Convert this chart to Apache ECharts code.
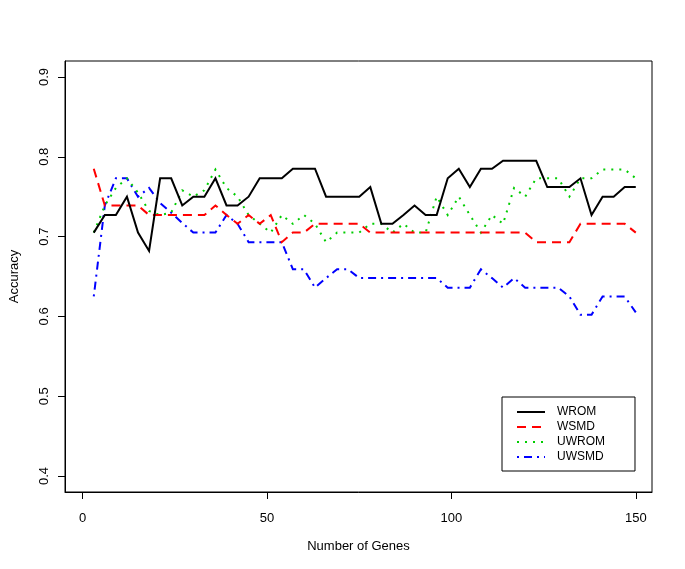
<!DOCTYPE html>
<html>
<head>
<meta charset="utf-8">
<script src="https://cdn.jsdelivr.net/npm/echarts@6/dist/echarts.min.js"></script>
<style>
html,body{margin:0;padding:0;background:#fff;}
#chart{width:685px;height:569px;}
</style>
</head>
<body>
<div id="chart"></div>
<script>
// Number of genes (x values)
var genes = [3,6,9,12,15,18,21,24,27,30,33,36,39,42,45,48,51,54,57,60,
             63,66,69,72,75,78,81,84,87,90,93,96,99,102,105,108,111,114,117,120,
             123,126,129,132,135,138,141,144,147,150];

var WROM = [0.705,0.727,0.727,0.750,0.705,0.682,0.773,0.773,0.739,0.750,
            0.750,0.773,0.739,0.739,0.750,0.773,0.773,0.773,0.785,0.785,
            0.785,0.750,0.750,0.750,0.750,0.762,0.716,0.716,0.727,0.739,
            0.727,0.727,0.773,0.785,0.762,0.785,0.785,0.795,0.795,0.795,
            0.795,0.762,0.762,0.762,0.773,0.727,0.750,0.750,0.762,0.762];

var WSMD = [0.785,0.739,0.739,0.739,0.739,0.727,0.727,0.727,0.727,0.727,
            0.727,0.739,0.727,0.716,0.727,0.716,0.727,0.693,0.705,0.705,
            0.716,0.716,0.716,0.716,0.716,0.705,0.705,0.705,0.705,0.705,
            0.705,0.705,0.705,0.705,0.705,0.705,0.705,0.705,0.705,0.705,
            0.693,0.693,0.693,0.693,0.716,0.716,0.716,0.716,0.716,0.705];

var UWROM = [0.705,0.739,0.761,0.773,0.755,0.732,0.727,0.730,0.758,0.750,
             0.758,0.784,0.761,0.750,0.727,0.716,0.705,0.727,0.716,0.727,
             0.716,0.693,0.705,0.705,0.705,0.716,0.716,0.705,0.716,0.705,
             0.705,0.750,0.727,0.750,0.727,0.705,0.727,0.716,0.761,0.750,
             0.773,0.773,0.773,0.750,0.773,0.773,0.784,0.784,0.784,0.773];

var UWSMD = [0.625,0.739,0.773,0.773,0.750,0.761,0.742,0.730,0.717,0.705,
             0.705,0.705,0.727,0.716,0.693,0.693,0.693,0.693,0.659,0.659,
             0.636,0.648,0.659,0.659,0.648,0.648,0.648,0.648,0.648,0.648,
             0.648,0.648,0.636,0.636,0.636,0.659,0.648,0.636,0.648,0.636,
             0.636,0.636,0.636,0.625,0.602,0.602,0.625,0.625,0.625,0.605];

var xTicks = [0, 50, 100, 150];
var yTicks = [0.4, 0.5, 0.6, 0.7, 0.8, 0.9];

var seriesNames = ['WROM', 'WSMD', 'UWROM', 'UWSMD'];
var seriesValues = [WROM, WSMD, UWROM, UWSMD];
var seriesColors = ['#000000', '#FF0000', '#00CD00', '#0000FF'];
var seriesDash = ['solid', [9, 6], [2, 6], [2, 5, 8, 5]];

var FONT = "'Liberation Sans', Arial, Helvetica, sans-serif";

function pairs(vals) {
  return genes.map(function (g, i) { return [g, vals[i]]; });
}

var series = seriesNames.map(function (name, k) {
  return {
    name: name,
    type: 'line',
    data: pairs(seriesValues[k]),
    symbol: 'none',
    showSymbol: false,
    smooth: false,
    z: 10 - k,
    lineStyle: { color: seriesColors[k], width: 2, type: seriesDash[k], cap: 'butt', join: 'miter' },
    itemStyle: { color: seriesColors[k] }
  };
});

var chart = echarts.init(document.getElementById('chart'), null, { renderer: 'canvas' });
chart.setOption({
  animation: false,
  backgroundColor: '#ffffff',
  textStyle: { fontFamily: FONT },
  grid: {
    left: 62, right: 33, top: 61, bottom: 77,
    show: true, borderColor: '#000', borderWidth: 1, backgroundColor: 'transparent'
  },
  legend: {
    orient: 'vertical',
    left: 502, top: 397,
    data: seriesNames,
    borderColor: '#000', borderWidth: 1, borderRadius: 0,
    padding: [9, 30, 8, 14],
    itemWidth: 28, itemHeight: 14, itemGap: 3,
    itemStyle: { opacity: 0, borderWidth: 0 },
    textStyle: { fontSize: 12, color: '#000', fontFamily: FONT, padding: [0, 0, 0, 7] }
  },
  xAxis: {
    type: 'value',
    min: -4.8, max: 154.4,
    name: 'Number of Genes',
    nameLocation: 'middle',
    nameGap: 48,
    nameTextStyle: { fontSize: 13, color: '#000', fontFamily: FONT },
    axisLine: { show: true, onZero: false, lineStyle: { color: '#000', width: 1 } },
    axisTick: { show: true, inside: false, length: 7, customValues: xTicks, lineStyle: { color: '#000' } },
    axisLabel: { show: true, customValues: xTicks, margin: 20, fontSize: 13, color: '#000', fontFamily: FONT },
    splitLine: { show: false }
  },
  yAxis: {
    type: 'value',
    min: 0.38, max: 0.92,
    name: 'Accuracy',
    nameLocation: 'middle',
    nameGap: 44,
    nameRotate: 90,
    nameTextStyle: { fontSize: 13, color: '#000', fontFamily: FONT },
    axisLine: { show: true, onZero: false, lineStyle: { color: '#000', width: 1 } },
    axisTick: { show: true, inside: false, length: 7, customValues: yTicks, lineStyle: { color: '#000' } },
    axisLabel: {
      show: true, customValues: yTicks, rotate: 90, margin: 14, fontSize: 13, color: '#000', fontFamily: FONT,
      formatter: function (v) { return v.toFixed(1); }
    },
    splitLine: { show: false }
  },
  series: series
});
</script>
</body>
</html>
